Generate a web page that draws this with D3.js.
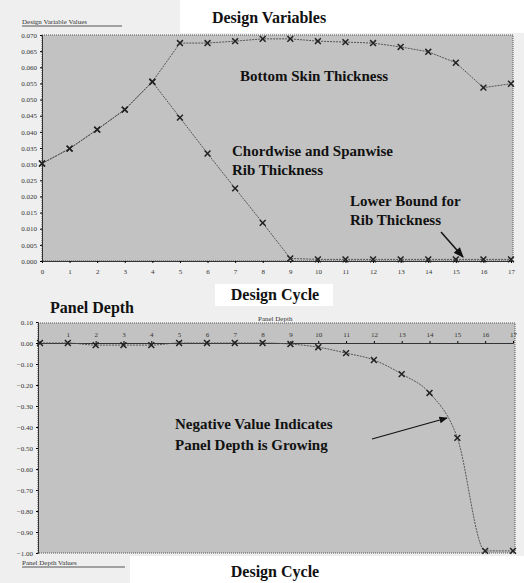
<!DOCTYPE html>
<html>
<head>
<meta charset="utf-8">
<script src="https://cdn.jsdelivr.net/npm/d3@7"></script>
<style>
    body { margin: 0; background: #fff; }
    svg text { font-family: "Liberation Serif", "DejaVu Serif", serif; }
    .lbl { font-weight: bold; font-size: 16px; fill: #111; }
    .tick text { font-size: 7px; fill: #333; }
</style>
</head>
<body>
<svg id="chart" width="524" height="583"></svg>
<script>
'use strict';
// design cycles (x axis)
let cycles = d3.range(0, 18);

// top chart: design variables
let topTicks = [0.000, 0.005, 0.010, 0.015, 0.020, 0.025, 0.030, 0.035, 0.040, 0.045, 0.050, 0.055, 0.060, 0.065, 0.070];
let bottomSkin = [0.0302, 0.0348, 0.0407, 0.0469, 0.0555, 0.0675, 0.0675, 0.0681, 0.0688, 0.0688, 0.0681, 0.0678, 0.0675, 0.0663, 0.0648, 0.0614, 0.0537, 0.0549];
let ribThickness = [0.0302, 0.0348, 0.0407, 0.0469, 0.0555, 0.0444, 0.0333, 0.0225, 0.0118, 0.0008, 0.0005, 0.0005, 0.0005, 0.0005, 0.0005, 0.0005, 0.0005, 0.0005];

// bottom chart: panel depth
let depthTicks = [0.1, 0.0, -0.1, -0.2, -0.3, -0.4, -0.5, -0.6, -0.7, -0.8, -0.9, -1.0];
let panelDepth = [0.0, 0.0, -0.01, -0.01, -0.01, 0.0, 0.0, 0.0, 0.0, -0.005, -0.02, -0.048, -0.081, -0.148, -0.238, -0.452, -0.99, -0.99];

let svg = d3.select("#chart");

let defs = svg.append("defs");
defs.append("marker")
    .attr("id", "arrow")
    .attr("viewBox", "0 0 10 10")
    .attr("refX", 9).attr("refY", 5)
    .attr("markerWidth", 7).attr("markerHeight", 7)
    .attr("orient", "auto")
    .append("path")
    .attr("d", "M0,1 L10,5 L0,9 Z")
    .attr("fill", "#111");

// background
svg.append("rect").attr("width", 524).attr("height", 583).attr("fill", "#efefef");
svg.append("rect").attr("x", 180).attr("y", 0).attr("width", 344).attr("height", 33).attr("fill", "#fff");
svg.append("rect").attr("x", 215).attr("y", 284).attr("width", 118).attr("height", 22).attr("fill", "#fff");
svg.append("rect").attr("x", 130).attr("y", 556).attr("width", 394).attr("height", 27).attr("fill", "#fff");

let star = d3.symbol().type(d3.symbolX).size(24);

// ---------- top chart ----------
let xTop = d3.scaleLinear().domain([0, 17]).range([42, 511]);
let yTop = d3.scaleLinear().domain([0, 0.070]).range([261, 35]);

svg.append("rect")
    .attr("x", 42).attr("y", 35)
    .attr("width", 471).attr("height", 226)
    .attr("fill", "#c2c2c2")
    .attr("stroke", "#555").attr("stroke-dasharray", "1,1");

svg.append("g")
    .attr("class", "y-axis")
    .attr("transform", "translate(42,0)")
    .call(d3.axisLeft(yTop).tickValues(topTicks).tickSize(2).tickFormat(d3.format(".3f")))
    .call(g => g.select(".domain").attr("stroke", "#333"));

svg.append("g")
    .attr("class", "x-axis")
    .attr("transform", "translate(0,261)")
    .call(d3.axisBottom(xTop).tickValues(cycles).tickSize(2).tickPadding(6))
    .call(g => g.select(".domain").attr("stroke", "#333"));

let lineTop = d3.line()
    .x((d, i) => xTop(cycles[i]))
    .y(d => yTop(d));

for (let series of [bottomSkin, ribThickness]) {
    svg.append("path")
        .attr("d", lineTop(series))
        .attr("fill", "none")
        .attr("stroke", "#555")
        .attr("stroke-width", 1)
        .attr("stroke-dasharray", "2,1");
    svg.append("g").selectAll("path")
        .data(series)
        .enter()
        .append("path")
        .attr("d", star)
        .attr("transform", (d, i) => "translate(" + xTop(cycles[i]) + "," + yTop(d) + ")")
        .attr("fill", "none")
        .attr("stroke", "#222")
        .attr("stroke-width", 1.5);
}

svg.append("text").attr("class", "lbl").attr("x", 269).attr("y", 23)
    .style("text-anchor", "middle").text("Design Variables");
svg.append("text").attr("x", 22).attr("y", 24)
    .style("font-size", "7px").style("fill", "#333").text("Design Variable Values");
svg.append("line").attr("x1", 22).attr("x2", 122).attr("y1", 26).attr("y2", 26).attr("stroke", "#555");

svg.append("text").attr("class", "lbl").attr("x", 240).attr("y", 81)
    .style("font-size", "15px").text("Bottom Skin Thickness");
svg.append("text").attr("class", "lbl").attr("x", 232).attr("y", 156)
    .style("font-size", "15px").text("Chordwise and Spanwise");
svg.append("text").attr("class", "lbl").attr("x", 232).attr("y", 175)
    .style("font-size", "15px").text("Rib Thickness");
svg.append("text").attr("class", "lbl").attr("x", 350).attr("y", 206)
    .style("font-size", "15px").text("Lower Bound for");
svg.append("text").attr("class", "lbl").attr("x", 350).attr("y", 225)
    .style("font-size", "15px").text("Rib Thickness");
svg.append("line")
    .attr("x1", 441).attr("y1", 232).attr("x2", 463).attr("y2", 257)
    .attr("stroke", "#111").attr("stroke-width", 1.5)
    .attr("marker-end", "url(#arrow)");

svg.append("text").attr("class", "lbl").attr("x", 275).attr("y", 300)
    .style("text-anchor", "middle").text("Design Cycle");

// ---------- bottom chart ----------
let xBot = d3.scaleLinear().domain([0, 17]).range([40, 513]);
let yBot = d3.scaleLinear().domain([-1.0, 0.1]).range([553, 322]);

svg.append("rect")
    .attr("x", 38).attr("y", 323)
    .attr("width", 477).attr("height", 230)
    .attr("fill", "#c2c2c2")
    .attr("stroke", "#555").attr("stroke-dasharray", "1,1");

svg.append("g")
    .attr("class", "y-axis")
    .attr("transform", "translate(38,0)")
    .call(d3.axisLeft(yBot).tickValues(depthTicks).tickSize(2).tickFormat(d3.format(".2f")))
    .call(g => g.select(".domain").attr("stroke", "#333"));

svg.append("g")
    .attr("class", "x-axis")
    .attr("transform", "translate(0," + yBot(0) + ")")
    .call(d3.axisTop(xBot).tickValues(cycles.slice(1)).tickSize(2).tickPadding(4))
    .call(g => g.select(".domain").attr("stroke", "#333"));

let lineBot = d3.line()
    .curve(d3.curveMonotoneX)
    .x((d, i) => xBot(cycles[i]))
    .y(d => yBot(d));

svg.append("path")
    .attr("d", lineBot(panelDepth))
    .attr("fill", "none")
    .attr("stroke", "#555")
    .attr("stroke-width", 1)
    .attr("stroke-dasharray", "2,1");
svg.append("g").selectAll("path")
    .data(panelDepth)
    .enter()
    .append("path")
    .attr("d", star)
    .attr("transform", (d, i) => "translate(" + xBot(cycles[i]) + "," + yBot(d) + ")")
    .attr("fill", "none")
    .attr("stroke", "#222")
    .attr("stroke-width", 1.5);

svg.append("text").attr("class", "lbl").attr("x", 50).attr("y", 313).text("Panel Depth");
svg.append("text").attr("x", 258).attr("y", 321)
    .style("font-size", "7px").style("fill", "#333").text("Panel Depth");
svg.append("text").attr("class", "lbl").attr("x", 175).attr("y", 429)
    .style("font-size", "15px").text("Negative Value Indicates");
svg.append("text").attr("class", "lbl").attr("x", 175).attr("y", 450)
    .style("font-size", "15px").text("Panel Depth is Growing");
svg.append("line")
    .attr("x1", 372).attr("y1", 439).attr("x2", 447).attr("y2", 418)
    .attr("stroke", "#111").attr("stroke-width", 1.2)
    .attr("marker-end", "url(#arrow)");

svg.append("text").attr("x", 22).attr("y", 565)
    .style("font-size", "7px").style("fill", "#333").text("Panel Depth Values");
svg.append("line").attr("x1", 22).attr("x2", 125).attr("y1", 567).attr("y2", 567).attr("stroke", "#555");

svg.append("text").attr("class", "lbl").attr("x", 275).attr("y", 577)
    .style("text-anchor", "middle").text("Design Cycle");
</script>
</body>
</html>
